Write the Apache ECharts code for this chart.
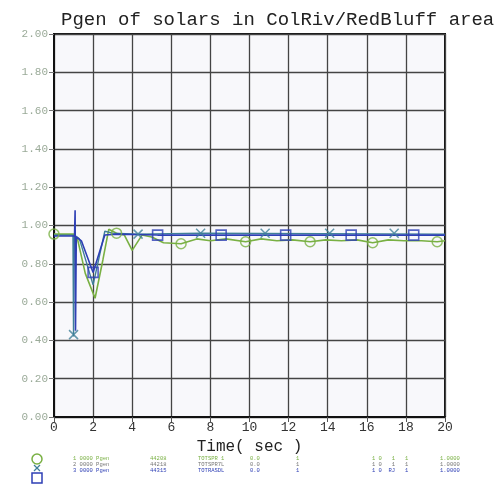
<!DOCTYPE html>
<html>
<head>
<meta charset="utf-8">
<script src="https://cdn.jsdelivr.net/npm/echarts@6/dist/echarts.min.js"></script>
<style>
  html, body { margin: 0; padding: 0; background: #fff; }
  #chart { width: 502px; height: 489px; }
</style>
</head>
<body>
<div id="chart"></div>
<script>
// curves, [time (sec), Pgen (pu)]
var greenLine = [
  [0, 0.955], [1.0, 0.955], [1.2, 0.93], [1.6, 0.75], [2.1, 0.62], [2.5, 0.82],
  [2.8, 0.98], [3.2, 0.96], [3.6, 0.95], [4.0, 0.87], [4.5, 0.95], [5.0, 0.94],
  [5.6, 0.91], [6.5, 0.905], [7.3, 0.93], [8.0, 0.92], [8.8, 0.93], [9.8, 0.915],
  [10.6, 0.93], [11.4, 0.92], [12.2, 0.925], [13.1, 0.915], [13.9, 0.925], [14.7, 0.92],
  [15.5, 0.925], [16.3, 0.91], [17.1, 0.925], [17.9, 0.92], [18.8, 0.92], [19.6, 0.915], [20, 0.92]
];
var tealLine = [
  [0, 0.95], [0.97, 0.95], [1.0, 0.42], [1.04, 0.95], [1.3, 0.93], [2.0, 0.69],
  [2.6, 0.97], [3.0, 0.96], [4.3, 0.955], [7.5, 0.96], [20, 0.955]
];
var blueLine = [
  [0, 0.945], [1.05, 0.945], [1.08, 1.08], [1.1, 0.45], [1.14, 0.94], [1.4, 0.92],
  [2.0, 0.755], [2.6, 0.95], [3.2, 0.955], [5.3, 0.95], [20, 0.95]
];

// marker positions on each curve
var greenMarks = [[0, 0.955], [3.2, 0.96], [6.5, 0.905], [9.8, 0.915], [13.1, 0.915], [16.3, 0.91], [19.6, 0.915]];
var tealMarks = [[1.0, 0.43], [4.3, 0.955], [7.5, 0.96], [10.8, 0.96], [14.1, 0.96], [17.4, 0.96]];
var blueMarks = [[2.0, 0.755], [5.3, 0.95], [8.55, 0.95], [11.85, 0.95], [15.2, 0.95], [18.4, 0.95]];

// legend rows (text too small to read exactly)
var legendRows = [
  ["1 0000 Pgen", "44208", "TOTSPR 1", "0.0", "1", "1 0   1   1", "1.0000"],
  ["2 0000 Pgen", "44218", "TOTSPR7L", "0.0", "1", "1 0   1   1", "1.0000"],
  ["3 0000 Pgen", "44315", "TOTRASDL", "0.0", "1", "1 0  RJ   1", "1.0000"]
];
var legendCols = [73, 150, 198, 250, 296, 372, 440];

var GREEN = "#79b043", TEAL = "#3f7f98", BLUE = "#2e3fb5";
var MONO = "'Liberation Mono', 'DejaVu Sans Mono', monospace";

var chart = echarts.init(document.getElementById("chart"));

var legendGraphics = [
  { type: "circle", shape: { cx: 37, cy: 459, r: 5 }, style: { fill: "none", stroke: GREEN, lineWidth: 1.5 } },
  { type: "polyline", shape: { points: [[34, 465], [40, 471]] }, style: { stroke: TEAL, lineWidth: 1.2 } },
  { type: "polyline", shape: { points: [[40, 465], [34, 471]] }, style: { stroke: TEAL, lineWidth: 1.2 } },
  { type: "rect", shape: { x: 32, y: 473, width: 10, height: 10 }, style: { fill: "none", stroke: BLUE, lineWidth: 1.5 } }
];
var rowColors = [GREEN, "#777", BLUE];
legendRows.forEach(function (row, i) {
  row.forEach(function (txt, j) {
    legendGraphics.push({
      type: "text", x: legendCols[j], y: 456 + i * 6,
      style: { text: txt, fill: rowColors[i], font: "5.5px " + MONO }
    });
  });
});

chart.setOption({
  backgroundColor: "#fff",
  animation: false,
  title: {
    text: "Pgen of solars in ColRiv/RedBluff area",
    left: 56, top: 5,
    textStyle: { fontFamily: MONO, fontSize: 19, fontWeight: "normal", color: "#222" }
  },
  grid: {
    left: 54, right: 57, top: 34, bottom: 72,
    show: true, backgroundColor: "#f8f8fb", borderColor: "#111", borderWidth: 2
  },
  xAxis: {
    type: "value", min: 0, max: 20, interval: 2,
    name: "Time( sec )", nameLocation: "middle", nameGap: 18,
    nameTextStyle: { fontFamily: MONO, fontSize: 16, color: "#222" },
    axisLine: { lineStyle: { color: "#111", width: 2 } },
    axisTick: { show: true, length: 5, lineStyle: { color: "#555" } },
    axisLabel: { fontFamily: MONO, fontSize: 13, color: "#333", margin: 4 },
    splitLine: { lineStyle: { color: "#444", width: 1.3 } }
  },
  yAxis: {
    type: "value", min: 0, max: 2, interval: 0.2,
    axisLine: { show: true, lineStyle: { color: "#111", width: 2 } },
    axisTick: { show: true, length: 5, lineStyle: { color: "#777" } },
    axisLabel: {
      fontFamily: MONO, fontSize: 11, color: "#9aaa98", margin: 6,
      formatter: function (v) { return v.toFixed(2); }
    },
    splitLine: { lineStyle: { color: "#444", width: 1.3 } }
  },
  series: [
    { type: "line", data: greenLine, showSymbol: false, lineStyle: { color: GREEN, width: 1.6 }, z: 2 },
    { type: "line", data: tealLine, showSymbol: false, lineStyle: { color: TEAL, width: 1.4 }, z: 3 },
    { type: "line", data: blueLine, showSymbol: false, lineStyle: { color: BLUE, width: 1.6 }, z: 4 },
    {
      type: "scatter", data: greenMarks, symbol: "circle", symbolSize: 10, z: 5,
      itemStyle: { color: "rgba(0,0,0,0)", borderColor: GREEN, borderWidth: 1.5 }
    },
    {
      type: "scatter", data: tealMarks, symbol: "path://M0,0L10,10M10,0L0,10", symbolSize: 9, z: 5,
      itemStyle: { color: "rgba(0,0,0,0)", borderColor: TEAL, borderWidth: 1.5 }
    },
    {
      type: "scatter", data: blueMarks, symbol: "rect", symbolSize: 10, z: 6,
      itemStyle: { color: "rgba(0,0,0,0)", borderColor: BLUE, borderWidth: 1.6 }
    }
  ],
  graphic: legendGraphics
});
</script>
</body>
</html>
